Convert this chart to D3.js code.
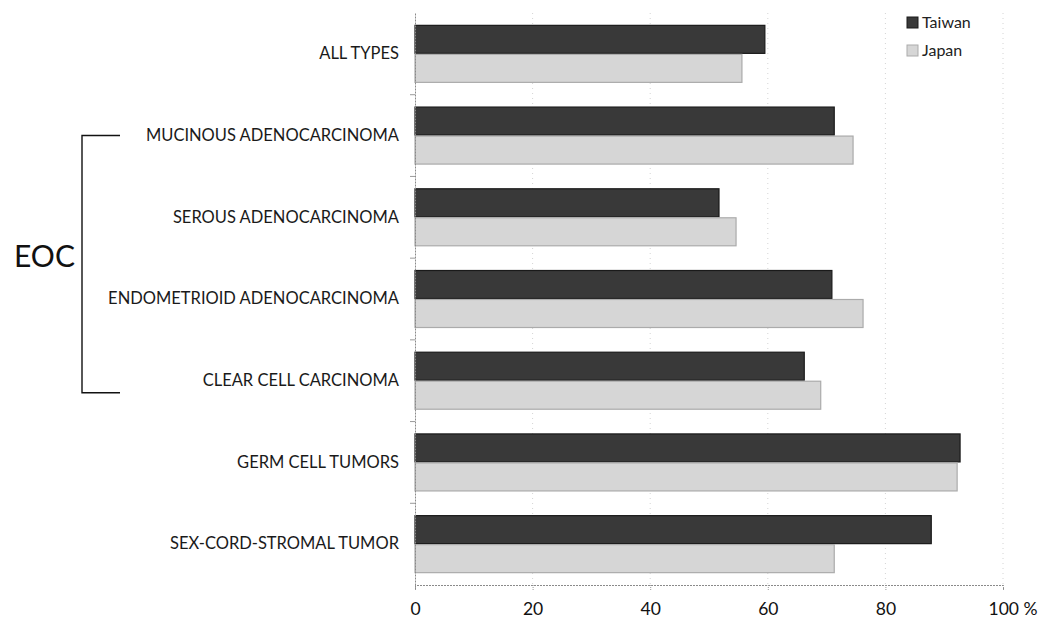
<!DOCTYPE html>
<html><head><meta charset="utf-8">
<script src="https://cdn.jsdelivr.net/npm/d3@7"></script>
<style>
html,body{margin:0;padding:0;background:#fff;}
svg{display:block;font-family:Lato,"Open Sans",sans-serif;}
</style></head>
<body><svg id="c" width="1038" height="618"></svg>
<script>
const categories = ["ALL TYPES","MUCINOUS ADENOCARCINOMA","SEROUS ADENOCARCINOMA","ENDOMETRIOID ADENOCARCINOMA","CLEAR CELL CARCINOMA","GERM CELL TUMORS","SEX-CORD-STROMAL TUMOR"];
const seriesNames = ["Taiwan","Japan"];
const taiwan = [59.5, 71.3, 51.7, 70.9, 66.2, 92.7, 87.8];
const japan  = [55.6, 74.5, 54.6, 76.2, 69.0, 92.2, 71.3];
const xTicks = [0,20,40,60,80,100];
const groupLabel = "EOC";

(function(){
const svg = d3.select("#c");
const pL = 415, pR = 1003, pT = 13, pB = 585;
const colors = {Taiwan:"#393939", Japan:"#d6d6d6"};
const strokes = {Taiwan:"#1a1a1a", Japan:"#ababab"};

const x = d3.scaleLinear().domain([0,100]).range([pL,pR]);
const y = d3.scaleBand().domain(categories).range([pT,pB]).paddingInner(0.29).paddingOuter(0.145);
const ys = d3.scaleBand().domain(seriesNames).range([0,y.bandwidth()]);

// gridlines
svg.append("g").selectAll("line").data(xTicks.slice(1)).join("line")
  .attr("x1",d=>x(d)).attr("x2",d=>x(d)).attr("y1",pT).attr("y2",pB)
  .attr("stroke","#d4d4d4").attr("stroke-width",1).attr("stroke-dasharray","1,4");

// bars
const data = categories.map((c,i)=>({cat:c, vals:[{s:"Taiwan",v:taiwan[i]},{s:"Japan",v:japan[i]}]}));
const g = svg.append("g").selectAll("g").data(data).join("g").attr("transform",d=>`translate(0,${y(d.cat)})`);
g.selectAll("rect").data(d=>d.vals).join("rect")
  .attr("x",x(0)).attr("y",d=>ys(d.s)+0.5).attr("width",d=>x(d.v)-x(0)).attr("height",ys.bandwidth()-1)
  .attr("fill",d=>colors[d.s]).attr("stroke",d=>strokes[d.s]).attr("stroke-width",1.2);

// x axis
const xa = svg.append("g").attr("transform",`translate(0,${pB})`)
  .call(d3.axisBottom(x).tickValues(xTicks).tickSize(5).tickPadding(13).tickFormat(d=>d===100?"100 %":d));
xa.select(".domain").attr("stroke","#8a8a8a").attr("stroke-dasharray","2,1");
xa.selectAll(".tick line").attr("stroke","#9a9a9a").attr("stroke-dasharray","1,1");
xa.selectAll(".tick text").attr("font-size",17.5).attr("fill","#111").attr("font-family","Lato,sans-serif");
xa.selectAll(".tick").filter(d=>d===100).select("text").attr("text-anchor","start").attr("dx",-15);

// y axis
const ya = svg.append("g").attr("transform",`translate(${pL},0)`)
  .call(d3.axisLeft(y).tickSize(0).tickPadding(16));
ya.select(".domain").attr("stroke","#8a8a8a").attr("stroke-dasharray","2,1");
ya.selectAll(".tick text").attr("font-size",16.5).attr("fill","#1a1a1a").attr("font-family","Lato,sans-serif");
const bounds = categories.slice(1).map(c=>y(c) - y.step()*y.paddingInner()/2);
ya.append("g").selectAll("line").data(bounds).join("line")
  .attr("x1",-5).attr("x2",0).attr("y1",d=>d).attr("y2",d=>d).attr("stroke","#9a9a9a");

// bracket for EOC
const bTop = y(categories[1]) + y.bandwidth()/2;
const bBot = y(categories[4]) + y.bandwidth()/2 + 12;
svg.append("path").attr("d",`M120,${bTop}H82V${bBot}H120`).attr("fill","none").attr("stroke","#111").attr("stroke-width",1.4);
svg.append("text").attr("x",14).attr("y",267).attr("font-size",30).attr("fill","#111").attr("font-family","Lato,sans-serif").text(groupLabel);

// legend
const lg = svg.append("g").attr("transform","translate(907,17)");
const li = lg.selectAll("g").data(seriesNames).join("g").attr("transform",(d,i)=>`translate(0,${i*28})`);
li.append("rect").attr("width",11).attr("height",11).attr("fill",d=>colors[d]).attr("stroke",d=>strokes[d]);
li.append("text").attr("x",15).attr("y",10.5).attr("font-size",16).attr("fill","#222").attr("font-family","Lato,sans-serif").text(d=>d);
})();
</script></body></html>
